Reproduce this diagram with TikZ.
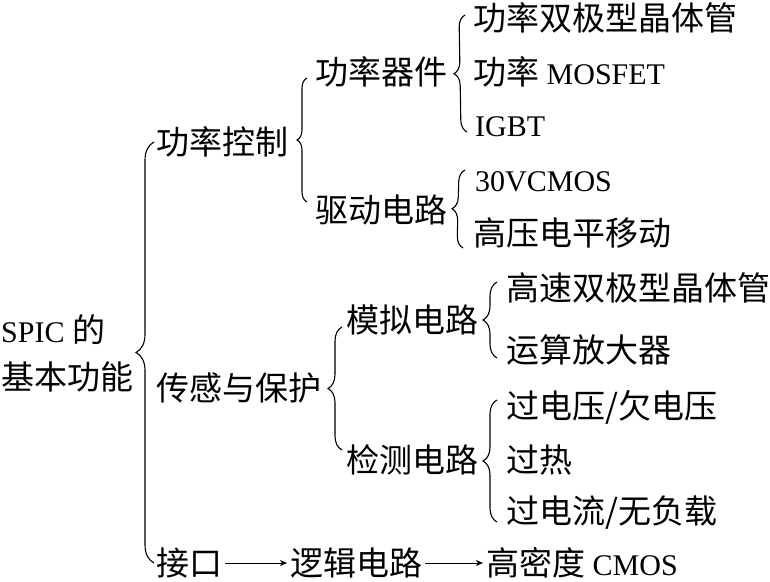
\documentclass[tikz,border=0pt]{standalone}
\usepackage{fontspec}
\setmainfont{Liberation Serif}
\newfontfamily\cjk{Noto Sans CJK SC}[Scale=1.1]
\usetikzlibrary{decorations.pathreplacing, arrows.meta}

\tikzset{
  lbl/.style={anchor=west, inner sep=0pt, font=\fontsize{30}{34}\selectfont},
  brc/.style={decorate, decoration={brace, amplitude=#1}, line width=1.1pt},
  arr/.style={-{Stealth[length=7pt, width=6pt, inset=2pt]}, line width=0.8pt, shorten <=3pt, shorten >=3pt}
}

\begin{document}
\begin{tikzpicture}[x=1pt, y=-1pt]
  \useasboundingbox[fill=white] (0,0) rectangle (770,581);

  % Root (left)
  \node (root) [lbl, align=left, font=\fontsize{30}{47}\selectfont] at (1,353) {SPIC {\cjk 的}\\{\cjk 基本功能}};

  % First level
  \node (pc) [lbl] at (156,142) {\cjk 功率控制};
  \node (cg) [lbl] at (156,388) {\cjk 传感与保护};
  \node (jk) [lbl] at (156,563) {\cjk 接口};
  \node (lj) [lbl] at (290,563) {\cjk 逻辑电路};
  \node (gm) [lbl] at (486,563) {{\cjk 高密度} CMOS};

  % Second level
  \node (gq) [lbl] at (315,72) {\cjk 功率器件};
  \node (qd) [lbl] at (315,210) {\cjk 驱动电路};
  \node (mn) [lbl] at (346,320) {\cjk 模拟电路};
  \node (jc) [lbl] at (346,460) {\cjk 检测电路};

  % Third level
  \node (gq1) [lbl] at (473,18) {\cjk 功率双极型晶体管};
  \node (gq2) [lbl] at (473,72) {{\cjk 功率} MOSFET};
  \node (gq3) [lbl] at (475,127) {IGBT};
  \node (qd1) [lbl] at (475,182) {30VCMOS};
  \node (qd2) [lbl] at (473,233) {\cjk 高压电平移动};
  \node (mn1) [lbl] at (506,288) {\cjk 高速双极型晶体管};
  \node (mn2) [lbl] at (506,350) {\cjk 运算放大器};
  \node (jc1) [lbl] at (506,407) {\cjk 过电压/欠电压};
  \node (jc2) [lbl] at (506,460) {\cjk 过热};
  \node (jc3) [lbl] at (506,513) {\cjk 过电流/无负载};

  % Braces
  \draw[brc=18pt] ([xshift=-2pt]jk.west) -- ([xshift=-2pt]pc.west);
  \draw[brc=10pt] ([xshift=-8pt, yshift=8pt]qd.west) -- ([xshift=-8pt, yshift=-6pt]gq.west);
  \draw[brc=12pt] ([xshift=-8pt, yshift=-5pt]gq3.west) -- ([xshift=-8pt, yshift=3pt]gq1.west);
  \draw[brc=12pt] ([xshift=-10pt, yshift=-15pt]qd2.west) -- ([xshift=-10pt, yshift=12pt]qd1.west);
  \draw[brc=14pt] ([xshift=-4pt, yshift=10pt]jc.west) -- ([xshift=-4pt, yshift=-7pt]mn.west);
  \draw[brc=14pt] ([xshift=-9pt, yshift=-8pt]mn2.west) -- ([xshift=-9pt, yshift=6pt]mn1.west);
  \draw[brc=14pt] ([xshift=-9pt, yshift=-9pt]jc3.west) -- ([xshift=-9pt, yshift=7pt]jc1.west);

  % Interface chain
  \draw[arr] (jk) -- (lj);
  \draw[arr] (lj) -- (gm);
\end{tikzpicture}
\end{document}
